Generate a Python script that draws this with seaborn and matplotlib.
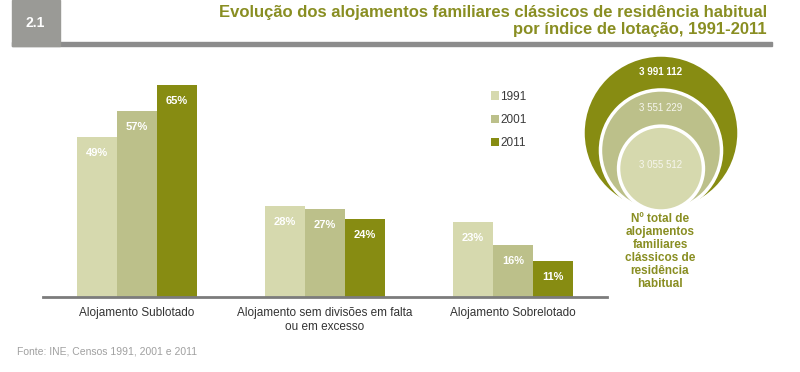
import matplotlib
matplotlib.use("Agg")
import matplotlib.pyplot as plt
from matplotlib.patches import Rectangle, Circle
import pandas as pd
import seaborn as sns

# ---------------------------------------------------------------------------
# Data
# ---------------------------------------------------------------------------

CATEGORIES = [
    "Alojamento Sublotado",
    "Alojamento sem divisões em falta\nou em excesso",
    "Alojamento Sobrelotado",
]
YEARS = ["1991", "2001", "2011"]
PCT_1991 = [49, 28, 23]
PCT_2001 = [57, 27, 16]
PCT_2011 = [65, 24, 11]
TOTALS = [3055512, 3551229, 3991112]   # 1991, 2001, 2011

TITLE = ("Evolução dos alojamentos familiares clássicos de residência habitual\n"
         "por índice de lotação, 1991-2011")
CAPTION = "Nº total de\nalojamentos\nfamiliares\nclássicos de\nresidência\nhabitual"
SOURCE = "Fonte: INE, Censos 1991, 2001 e 2011"

COLORS = ["#d6d9ae", "#bcc08a", "#878c12"]
OLIVE = "#898e22"
W, H = 800, 372

sns.set_theme(style="white")
plt.rcParams["font.family"] = ["Liberation Sans", "DejaVu Sans"]
NARROW = ["Liberation Sans Narrow", "Liberation Sans", "DejaVu Sans"]

df = pd.DataFrame({
    "categoria": CATEGORIES * 3,
    "ano": [y for y in YEARS for _ in CATEGORIES],
    "valor": PCT_1991 + PCT_2001 + PCT_2011,
})

fig = plt.figure(figsize=(W / 100, H / 100), dpi=100)


def px(x0, y0, w, h):
    """pixel box (top-left origin) -> figure fraction rect"""
    return [x0 / W, 1 - (y0 + h) / H, w / W, h / H]


# ---------------------------------------------------------------------------
# Bars
# ---------------------------------------------------------------------------
ax = fig.add_axes(px(43, 69, 564, 228))
sns.barplot(data=df, x="categoria", y="valor", hue="ano", palette=COLORS,
            width=0.64, gap=0, saturation=1, ax=ax, linewidth=0)
ax.set_xlim(-0.5, 2.5)
ax.set_ylim(0, 70)
ax.set_xlabel("")
ax.set_ylabel("")
ax.set_yticks([])
ax.tick_params(axis="x", length=0, pad=7, labelsize=8.5, labelcolor="#333333")
for s in ("top", "right", "left"):
    ax.spines[s].set_visible(False)
ax.spines["bottom"].set_color("#7c7c7c")
ax.spines["bottom"].set_linewidth(2)

for cont in ax.containers:
    for bar in cont:
        h = bar.get_height()
        ax.annotate(f"{h:.0f}%", (bar.get_x() + bar.get_width() / 2, h),
                    xytext=(0, -16), textcoords="offset pixels",
                    ha="center", va="center", color="white",
                    fontsize=8, fontweight="bold")

handles, labels = ax.get_legend_handles_labels()
ax.legend(handles, labels, loc="upper left",
          bbox_to_anchor=(480 / W, 1 - 80 / H), bbox_transform=fig.transFigure,
          frameon=False, fontsize=8.5, handlelength=0.7, handleheight=0.7,
          handletextpad=0.1, labelspacing=0.95, labelcolor="#3a3a3a")

# ---------------------------------------------------------------------------
# Nested circles with totals
# ---------------------------------------------------------------------------
cax = fig.add_axes(px(583, 55, 156, 156))
cax.set_xlim(0, 1)
cax.set_ylim(0, 1)
cax.axis("off")

radii = [0.5, 0.388, 0.272]            # outer (2011) -> inner (1991)
order = [2, 1, 0]
tops = [2 * r for r in radii]
for i, (r, k) in enumerate(zip(radii, order)):
    cax.add_patch(Circle((0.5, r), r, facecolor=COLORS[k], edgecolor="white",
                         linewidth=2.5, clip_on=False))
    ly = (tops[i] + tops[i + 1]) / 2 if i < 2 else r * 1.08
    label = f"{TOTALS[k]:,}".replace(",", " ")
    cax.text(0.5, ly, label, ha="center", va="center", fontsize=7,
             color="white" if k == 2 else "#f6f6ee",
             fontweight="bold" if k == 2 else "normal")

fig.text(660 / W, 1 - 213 / H, CAPTION, ha="center", va="top",
         fontsize=8.5, fontweight="bold", color=OLIVE, linespacing=1.12)

# ---------------------------------------------------------------------------
# Header and footer
# ---------------------------------------------------------------------------
fig.patches.append(Rectangle((12 / W, 1 - 46 / H), 760 / W, 4 / H,
                             transform=fig.transFigure, color="#8c8c8c"))
fig.patches.append(Rectangle((12 / W, 1 - 46 / H), 48 / W, 46 / H,
                             transform=fig.transFigure, color="#9a9a96"))
fig.text(35 / W, 1 - 23 / H, "2.1", ha="center", va="center", color="white",
         fontsize=10, fontweight="bold")
fig.text(767 / W, 1 - 5 / H, TITLE, ha="right", va="top", ma="right",
         fontsize=12, fontweight="bold", color=OLIVE, linespacing=1.15,
         family=NARROW)
fig.text(17 / W, 1 - 352 / H, SOURCE, ha="left", va="center",
         fontsize=7.5, color="#a0a0a0")

fig.savefig("out.png", dpi=100)
